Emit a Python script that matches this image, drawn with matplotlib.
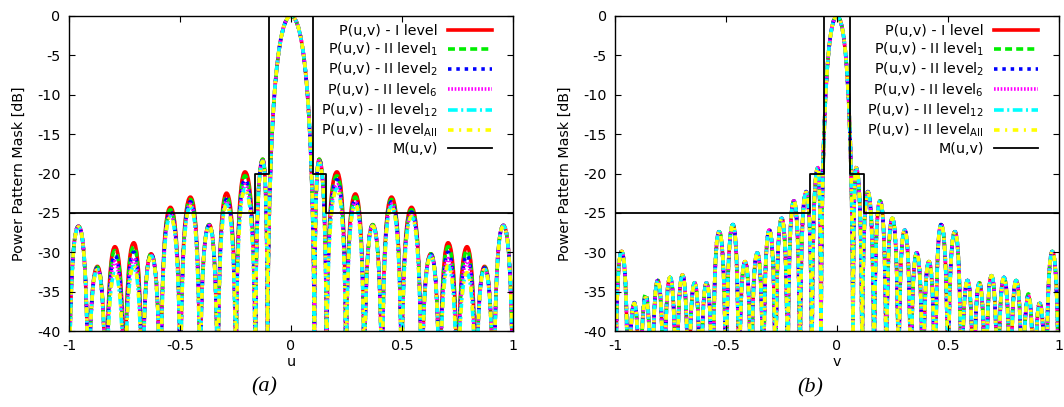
import matplotlib
matplotlib.use("Agg")
import matplotlib.pyplot as plt
from matplotlib.path import Path
from matplotlib.patches import PathPatch

plt.rcParams['axes.unicode_minus'] = False
plt.rcParams['lines.scale_dashes'] = False
plt.rcParams['mathtext.default'] = 'regular'
plt.rcParams['font.family'] = ['DejaVu Sans']

# ---------------- panel (a): pattern along u ----------------
u_lobes = [-0.957, -0.872, -0.793, -0.708, -0.630, -0.543, -0.453, -0.368, -0.290, -0.207, -0.127,
           0.0,
           0.127, 0.207, 0.290, 0.368, 0.453, 0.543, 0.630, 0.708, 0.793, 0.872, 0.957]
u_nulls = [-1.0, -0.913, -0.833, -0.750, -0.670, -0.588, -0.498, -0.410, -0.330, -0.248, -0.160, -0.105,
           0.105, 0.160, 0.248, 0.330, 0.410, 0.498, 0.588, 0.670, 0.750, 0.833, 0.913, 1.0]

a_I = [-26.7, -31.8, -29.3, -28.8, -30.2, -24.3, -23.0, -26.5, -22.5, -19.8, -18.2, 0.0,
       -18.2, -19.8, -22.6, -26.5, -23.0, -24.3, -30.2, -28.8, -29.3, -31.8, -26.6]
a_II1 = [-26.7, -31.9, -29.8, -29.3, -30.2, -24.6, -23.3, -26.5, -22.9, -20.3, -18.2, 0.0,
         -18.2, -20.3, -23.0, -26.5, -23.3, -24.6, -30.2, -29.3, -29.8, -31.9, -26.6]
a_II2 = [-26.7, -32.0, -30.4, -30.0, -30.3, -24.9, -23.6, -26.6, -23.3, -20.8, -18.3, 0.0,
         -18.3, -20.8, -23.4, -26.6, -23.6, -24.9, -30.3, -30.0, -30.4, -32.0, -26.6]
a_II6 = [-26.7, -32.1, -31.2, -30.8, -30.4, -25.2, -23.9, -26.6, -23.6, -21.4, -18.4, 0.0,
         -18.4, -21.4, -23.7, -26.6, -23.9, -25.2, -30.4, -30.8, -31.2, -32.1, -26.6]
a_II12 = [-26.8, -32.2, -32.7, -31.8, -30.5, -25.5, -24.2, -26.7, -24.0, -22.0, -18.5, 0.0,
          -18.5, -22.0, -24.0, -26.7, -24.2, -25.5, -30.5, -31.8, -32.7, -32.2, -26.7]
a_IIall = [-26.8, -32.2, -32.6, -31.7, -30.5, -25.5, -24.2, -26.7, -24.0, -22.1, -18.5, 0.0,
           -18.5, -22.1, -24.0, -26.7, -24.2, -25.5, -30.5, -31.7, -32.6, -32.2, -26.7]

mask_u = [-1.0, -0.16, -0.10, 0.10, 0.16, 1.0]
mask_a = [-25, -20, 0, -20, -25, -25]

# ---------------- panel (b): pattern along v ----------------
v_lobes = [-0.970, -0.913, -0.862, -0.807, -0.752, -0.696, -0.641, -0.588, -0.531, -0.469, -0.414,
           -0.359, -0.305, -0.249, -0.194, -0.139, -0.086,
           0.0,
           0.086, 0.139, 0.194, 0.249, 0.305, 0.359, 0.414, 0.469, 0.531, 0.588, 0.641, 0.696,
           0.752, 0.807, 0.862, 0.913, 0.970]
v_nulls = [-1.0, -0.941, -0.888, -0.835, -0.780, -0.724, -0.669, -0.615, -0.560, -0.500, -0.442,
           -0.387, -0.332, -0.277, -0.222, -0.167, -0.113, -0.072,
           0.072, 0.113, 0.167, 0.222, 0.277, 0.332, 0.387, 0.442, 0.500, 0.560, 0.615, 0.669,
           0.724, 0.780, 0.835, 0.888, 0.941, 1.0]

b_I = [-29.9, -36.5, -35.8, -33.6, -33.2, -32.9, -33.9, -33.9, -27.4, -26.5, -31.2, -30.1, -27.2,
       -25.7, -23.5, -22.4, -19.3, 0.0,
       -19.3, -22.4, -23.5, -25.7, -27.2, -30.1, -31.2, -26.5, -27.4, -33.6, -33.9, -33.0, -33.2,
       -33.6, -35.6, -36.5, -29.9]
b_II1 = [-29.9, -36.5, -35.3, -33.6, -33.2, -32.9, -33.9, -33.9, -27.4, -26.5, -31.2, -30.1, -27.2,
         -25.7, -23.5, -22.4, -19.3, 0.0,
         -19.3, -22.4, -23.5, -25.7, -27.2, -30.1, -31.2, -26.5, -27.4, -33.6, -33.9, -33.0, -33.2,
         -33.6, -35.3, -36.5, -29.9]
b_II2 = [-29.9, -36.4, -35.6, -33.6, -33.2, -32.9, -33.9, -33.9, -27.4, -26.5, -31.2, -30.1, -27.2,
         -25.7, -23.5, -22.3, -19.3, 0.0,
         -19.3, -22.3, -23.5, -25.7, -27.2, -30.1, -31.2, -26.5, -27.4, -33.6, -33.9, -33.0, -33.2,
         -33.6, -35.5, -36.4, -29.9]
b_II6 = b_I
b_II12 = b_I
b_IIall = b_I

mask_v = [-1.0, -0.12, -0.06, 0.06, 0.12, 1.0]
mask_b = [-25, -20, 0, -20, -25, -25]

labels = ['P(u,v) - I level', 'P(u,v) - II level$_1$', 'P(u,v) - II level$_2$',
          'P(u,v) - II level$_6$', 'P(u,v) - II level$_{12}$', 'P(u,v) - II level$_{All}$']
colors = ['#ff0000', '#00ee00', '#0000ff', '#ff00ff', '#00ffff', '#ffff00']
dashes = ['-', (0, (5, 3)), (0, (2.5, 3.5)), (0, (1.2, 1.2)), (0, (7, 2.5, 1.5, 2.5)),
          (0, (4, 4, 1.5, 4))]

xticks = [-1, -0.5, 0, 0.5, 1]
xticklabels = ['-1', '-0.5', '0', '0.5', '1']
yticks = [0, -5, -10, -15, -20, -25, -30, -35, -40]
yticklabels = ['0', '-5', '-10', '-15', '-20', '-25', '-30', '-35', '-40']


def lobes_path(centers, nulls, peaks, depth=30.0, kv=0.55, kh=0.75):
    # each lobe: arch from its left null up to the peak and back down,
    # the arch base sits 'depth' dB under the peak (always below the -40 floor)
    verts, codes = [], []
    for i, (c, p) in enumerate(zip(centers, peaks)):
        l, r = nulls[i], nulls[i + 1]
        f = min(p - depth, -45.0)
        h = f + kv * (p - f)
        verts.append((l, f))
        codes.append(Path.MOVETO if i == 0 else Path.LINETO)
        verts += [(l, h), (c - kh * (c - l), p), (c, p),
                  (c + kh * (r - c), p), (r, h), (r, f)]
        codes += [Path.CURVE4] * 6
    return Path(verts, codes)


def panel(ax, centers, nulls, series, mask_x, mask_y, xlabel):
    for lab, col, ls, pk in zip(labels, colors, dashes, series):
        ax.add_patch(PathPatch(lobes_path(centers, nulls, pk), fill=False,
                               edgecolor=col, linestyle=ls, linewidth=2.6, capstyle='butt'))
        ax.plot([], [], color=col, linestyle=ls, linewidth=2.6, label=lab)
    ax.plot(mask_x, mask_y, color='black', linewidth=1.3, drawstyle='steps-post',
            label='M(u,v)', zorder=5)
    ax.set_xlim(-1, 1)
    ax.set_ylim(-40, 0)
    ax.set_xticks(xticks, xticklabels)
    ax.set_yticks(yticks, yticklabels)
    ax.tick_params(direction='in', top=True, right=True, length=4, width=0.8,
                   labelsize=10.3, pad=6)
    ax.set_xlabel(xlabel, fontsize=10.3, labelpad=1)
    ax.set_ylabel('Power Pattern Mask [dB]', fontsize=10.3)
    ax.yaxis.set_label_coords(-0.097, 0.5)
    for s in ax.spines.values():
        s.set_linewidth(1.0)
    ax.legend(loc='upper right', bbox_to_anchor=(0.971, 1.0), frameon=False, markerfirst=False,
              fontsize=10.3, handlelength=3.1, handletextpad=0.7, labelspacing=0.2,
              borderaxespad=0.2, borderpad=0.35)


fig = plt.figure(figsize=(10.64, 4.07), dpi=100)
ax1 = fig.add_axes([0.0648, 0.1867, 0.4173, 0.774])
ax2 = fig.add_axes([0.5780, 0.1867, 0.4173, 0.774])

panel(ax1, u_lobes, u_nulls, [a_I, a_II1, a_II2, a_II6, a_II12, a_IIall], mask_u, mask_a, 'u')
panel(ax2, v_lobes, v_nulls, [b_I, b_II1, b_II2, b_II6, b_II12, b_IIall], mask_v, mask_b, 'v')

fig.text(264 / 1064, 1 - 387 / 407, '(a)', ha='center', va='center', fontsize=16,
         family='Liberation Serif', style='italic')
fig.text(810 / 1064, 1 - 388 / 407, '(b)', ha='center', va='center', fontsize=16,
         family='Liberation Serif', style='italic')

fig.savefig('out.png', dpi=100)
